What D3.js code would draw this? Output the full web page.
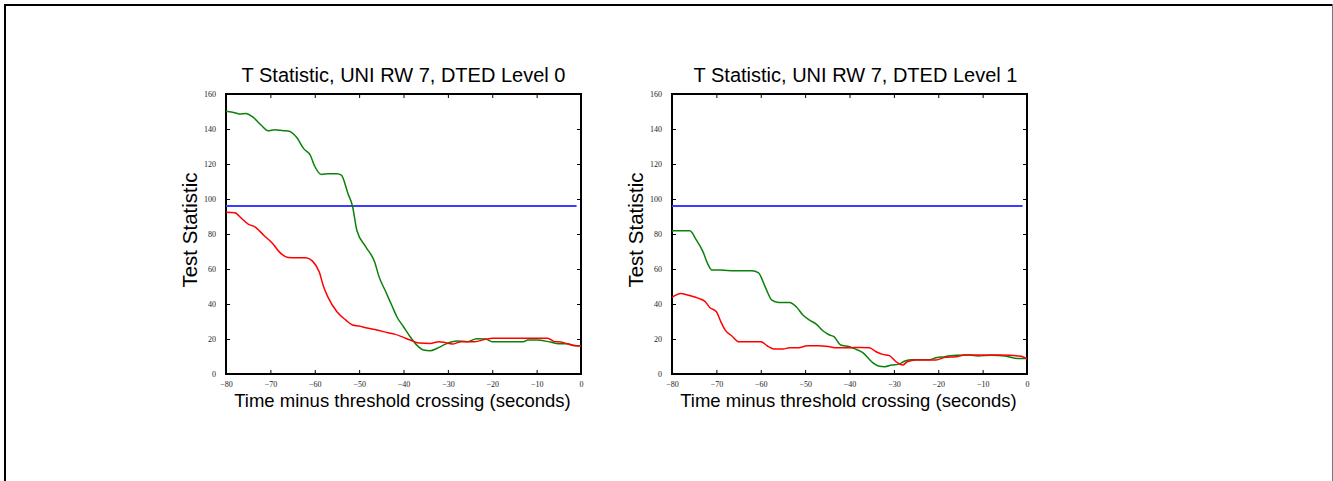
<!DOCTYPE html>
<html>
<head>
<meta charset="utf-8">
<script src="https://cdn.jsdelivr.net/npm/d3@7"></script>
<style>
  body { margin: 0; background: #fff; }
  svg { display: block; }
  .tick text { font-family: "Liberation Serif", "Times New Roman", serif; font-size: 8px; fill: #222; }
  .title, .label { font-family: "Liberation Sans", Arial, sans-serif; fill: #000; }
  .title { font-size: 20px; }
  .xlabel { font-size: 18.5px; }
  .ylabel { font-size: 20.5px; }
</style>
</head>
<body>
<div id="chart"></div>
<script>
// threshold (blue) and x range
const threshold = 96;
const xTicks = [-80, -70, -60, -50, -40, -30, -20, -10, 0];
const yTicks = [0, 20, 40, 60, 80, 100, 120, 140, 160];
const titles = ['T Statistic, UNI RW 7, DTED Level 0', 'T Statistic, UNI RW 7, DTED Level 1'];

// DTED Level 0
const greenL0 = [[-80,150.1],[-78,149.3],[-77,148.6],[-75.5,148.8],[-74,146.9],[-72,142],[-70.5,139],[-69,139.6],[-67,139],[-66,138.9],
  [-64,135],[-62.5,128.8],[-61,125],[-60,118.7],[-58.5,114],[-57,114.5],[-55,114.5],[-54,113.6],[-52.5,103],[-51.5,96],
  [-50.5,82],[-48.5,72.7],[-46.5,64],[-45.5,55.5],[-44,47],[-42.5,38.4],[-41.5,32.7],[-40,27],[-38.5,21.3],[-37,16.5],
  [-35.5,13.7],[-34,13.3],[-32.5,14.6],[-30.5,17.1],[-28,18.8],[-25.5,18.5],[-23.5,20.2],[-21.5,20],[-20,18.5],[-17,18.5],
  [-13,18.5],[-12,19.4],[-10,19.4],[-7,18.3],[-5,17.3],[-3,17.3],[-1.5,16.2],[0,16.2]];
const redL0 = [[-80,92.5],[-78,92.1],[-76.5,88.9],[-75,85.6],[-73.5,84.1],[-71.5,79.3],[-69.5,74.6],[-68,69.8],[-66,66.6],[-64,66.4],
  [-62,66.4],[-60.5,64.5],[-59,58.4],[-58,49.8],[-57,43.8],[-55,35.6],[-53,30.8],[-51.5,28],[-50,27.4],[-48.5,26.4],
  [-46,25.1],[-43.5,23.6],[-42,22.8],[-40,20.9],[-38.5,19.4],[-36.5,17.7],[-34,17.5],[-32,18.5],[-30.5,17.9],[-29,17.1],
  [-27,18.5],[-24,18.5],[-21.5,19.8],[-20,20.4],[-15,20.4],[-10,20.4],[-7.5,20.4],[-6,18.5],[-4.5,18.3],[-3,17.1],
  [-1,16.2],[0,16]];

// DTED Level 1
const greenL1 = [[-80,81.8],[-76,81.8],[-74.5,76.5],[-73,69.8],[-72,63.2],[-71,59.4],[-69,59.4],[-66,59],[-62,59],[-60.5,57.8],
  [-59,49.8],[-57.5,42.2],[-56,40.9],[-53.5,40.9],[-52,38.4],[-50.5,33.7],[-49,30.8],[-47.5,28.5],[-46,24.7],[-44.5,22.3],
  [-43.5,21.3],[-42,16.6],[-40,15.6],[-38.5,14.1],[-37,12.2],[-35,7],[-33.5,4.6],[-32,4.2],[-30.5,5.1],[-29,5.5],
  [-27.5,7.4],[-26,8.2],[-24,8.2],[-22,8.2],[-20.5,9.3],[-18.5,9.9],[-16,10.7],[-13,10.8],[-11,10.3],[-8,10.7],
  [-5,10.3],[-2,8.9],[0,8.9]];
const redL1 = [[-80,43.8],[-78,46],[-76.5,45.1],[-74,43.2],[-72.5,41.3],[-71.5,38],[-70,35.6],[-69,29.9],[-68,25.1],[-66.5,21.7],
  [-65,18.5],[-62,18.5],[-60,18.5],[-58.5,16],[-57,14.3],[-55,14.3],[-53.5,15],[-51.5,15],[-49.5,16.2],[-47,16.2],
  [-44.5,15.6],[-43,15],[-40,15],[-37.5,15.2],[-35.5,15],[-34,12.7],[-32.5,11.2],[-31,10.5],[-29.5,7],[-28,5.1],
  [-27,7],[-25,8],[-23,8],[-20.5,8],[-18.5,9.5],[-16,9.9],[-14,10.8],[-10,10.8],[-6,10.8],[-4,10.7],
  [-2,10.3],[-1,9.9],[0,8.6]];

const W = 1333, H = 481;
const svg = d3.select('#chart').append('svg').attr('width', W).attr('height', H);

// outer frame
svg.append('line').attr('x1', 5).attr('x2', 1333).attr('y1', 5).attr('y2', 5).attr('stroke', '#000').attr('stroke-width', 2);
svg.append('line').attr('x1', 5).attr('x2', 5).attr('y1', 4).attr('y2', H).attr('stroke', '#000').attr('stroke-width', 2);
svg.append('line').attr('x1', 1332.5).attr('x2', 1332.5).attr('y1', 4).attr('y2', H).attr('stroke', '#777').attr('stroke-width', 1);

const panels = [
  { left: 226, title: titles[0], green: greenL0, red: redL0, titleDx: 0 },
  { left: 672, title: titles[1], green: greenL1, red: redL1, titleDx: 6 }
];
const pw = 355, plotTop = 94, ph = 280;

panels.forEach(p => {
  const g = svg.append('g').attr('transform', `translate(${p.left},${plotTop})`);
  const x = d3.scaleLinear().domain([-80, 0]).range([0, pw]);
  const y = d3.scaleLinear().domain([0, 160]).range([ph, 0]);

  // axes: labelled left/bottom, inward ticks all round
  g.append('g').attr('transform', `translate(0,${ph})`)
    .call(d3.axisBottom(x).tickValues(xTicks).tickSizeInner(-4).tickSizeOuter(0).tickPadding(7))
    .call(a => a.select('.domain').remove());
  g.append('g')
    .call(d3.axisLeft(y).tickValues(yTicks).tickSizeInner(-4).tickSizeOuter(0).tickPadding(10))
    .call(a => a.select('.domain').remove());
  g.append('g')
    .call(d3.axisTop(x).tickValues(xTicks).tickSizeInner(-4).tickSizeOuter(0).tickFormat(''))
    .call(a => a.select('.domain').remove());
  g.append('g').attr('transform', `translate(${pw},0)`)
    .call(d3.axisRight(y).tickValues(yTicks).tickSizeInner(-4).tickSizeOuter(0).tickFormat(''))
    .call(a => a.select('.domain').remove());
  g.selectAll('.tick line').attr('stroke', '#000').attr('stroke-width', 1);

  g.append('rect').attr('width', pw).attr('height', ph)
    .attr('fill', 'none').attr('stroke', '#000').attr('stroke-width', 2);

  const line = d3.line().x(d => x(d[0])).y(d => y(d[1])).curve(d3.curveMonotoneX);

  g.append('path').datum([[-80, threshold], [-1, threshold]]).attr('d', line)
    .attr('fill', 'none').attr('stroke', '#3c3cff').attr('stroke-width', 2);
  g.append('path').datum(p.green).attr('d', line)
    .attr('fill', 'none').attr('stroke', '#0a820a').attr('stroke-width', 1.5);
  g.append('path').datum(p.red).attr('d', line)
    .attr('fill', 'none').attr('stroke', '#ff0000').attr('stroke-width', 1.5);

  g.append('text').attr('class', 'title').attr('x', pw / 2 + p.titleDx).attr('y', 82 - plotTop)
    .attr('text-anchor', 'middle').text(p.title);
  g.append('text').attr('class', 'label xlabel').attr('x', pw / 2 - 1).attr('y', 407 - plotTop)
    .attr('text-anchor', 'middle').text('Time minus threshold crossing (seconds)');
  g.append('text').attr('class', 'label ylabel')
    .attr('transform', `translate(-29,${ph / 2 - 4}) rotate(-90)`)
    .attr('text-anchor', 'middle').text('Test Statistic');
});
</script>
</body>
</html>
